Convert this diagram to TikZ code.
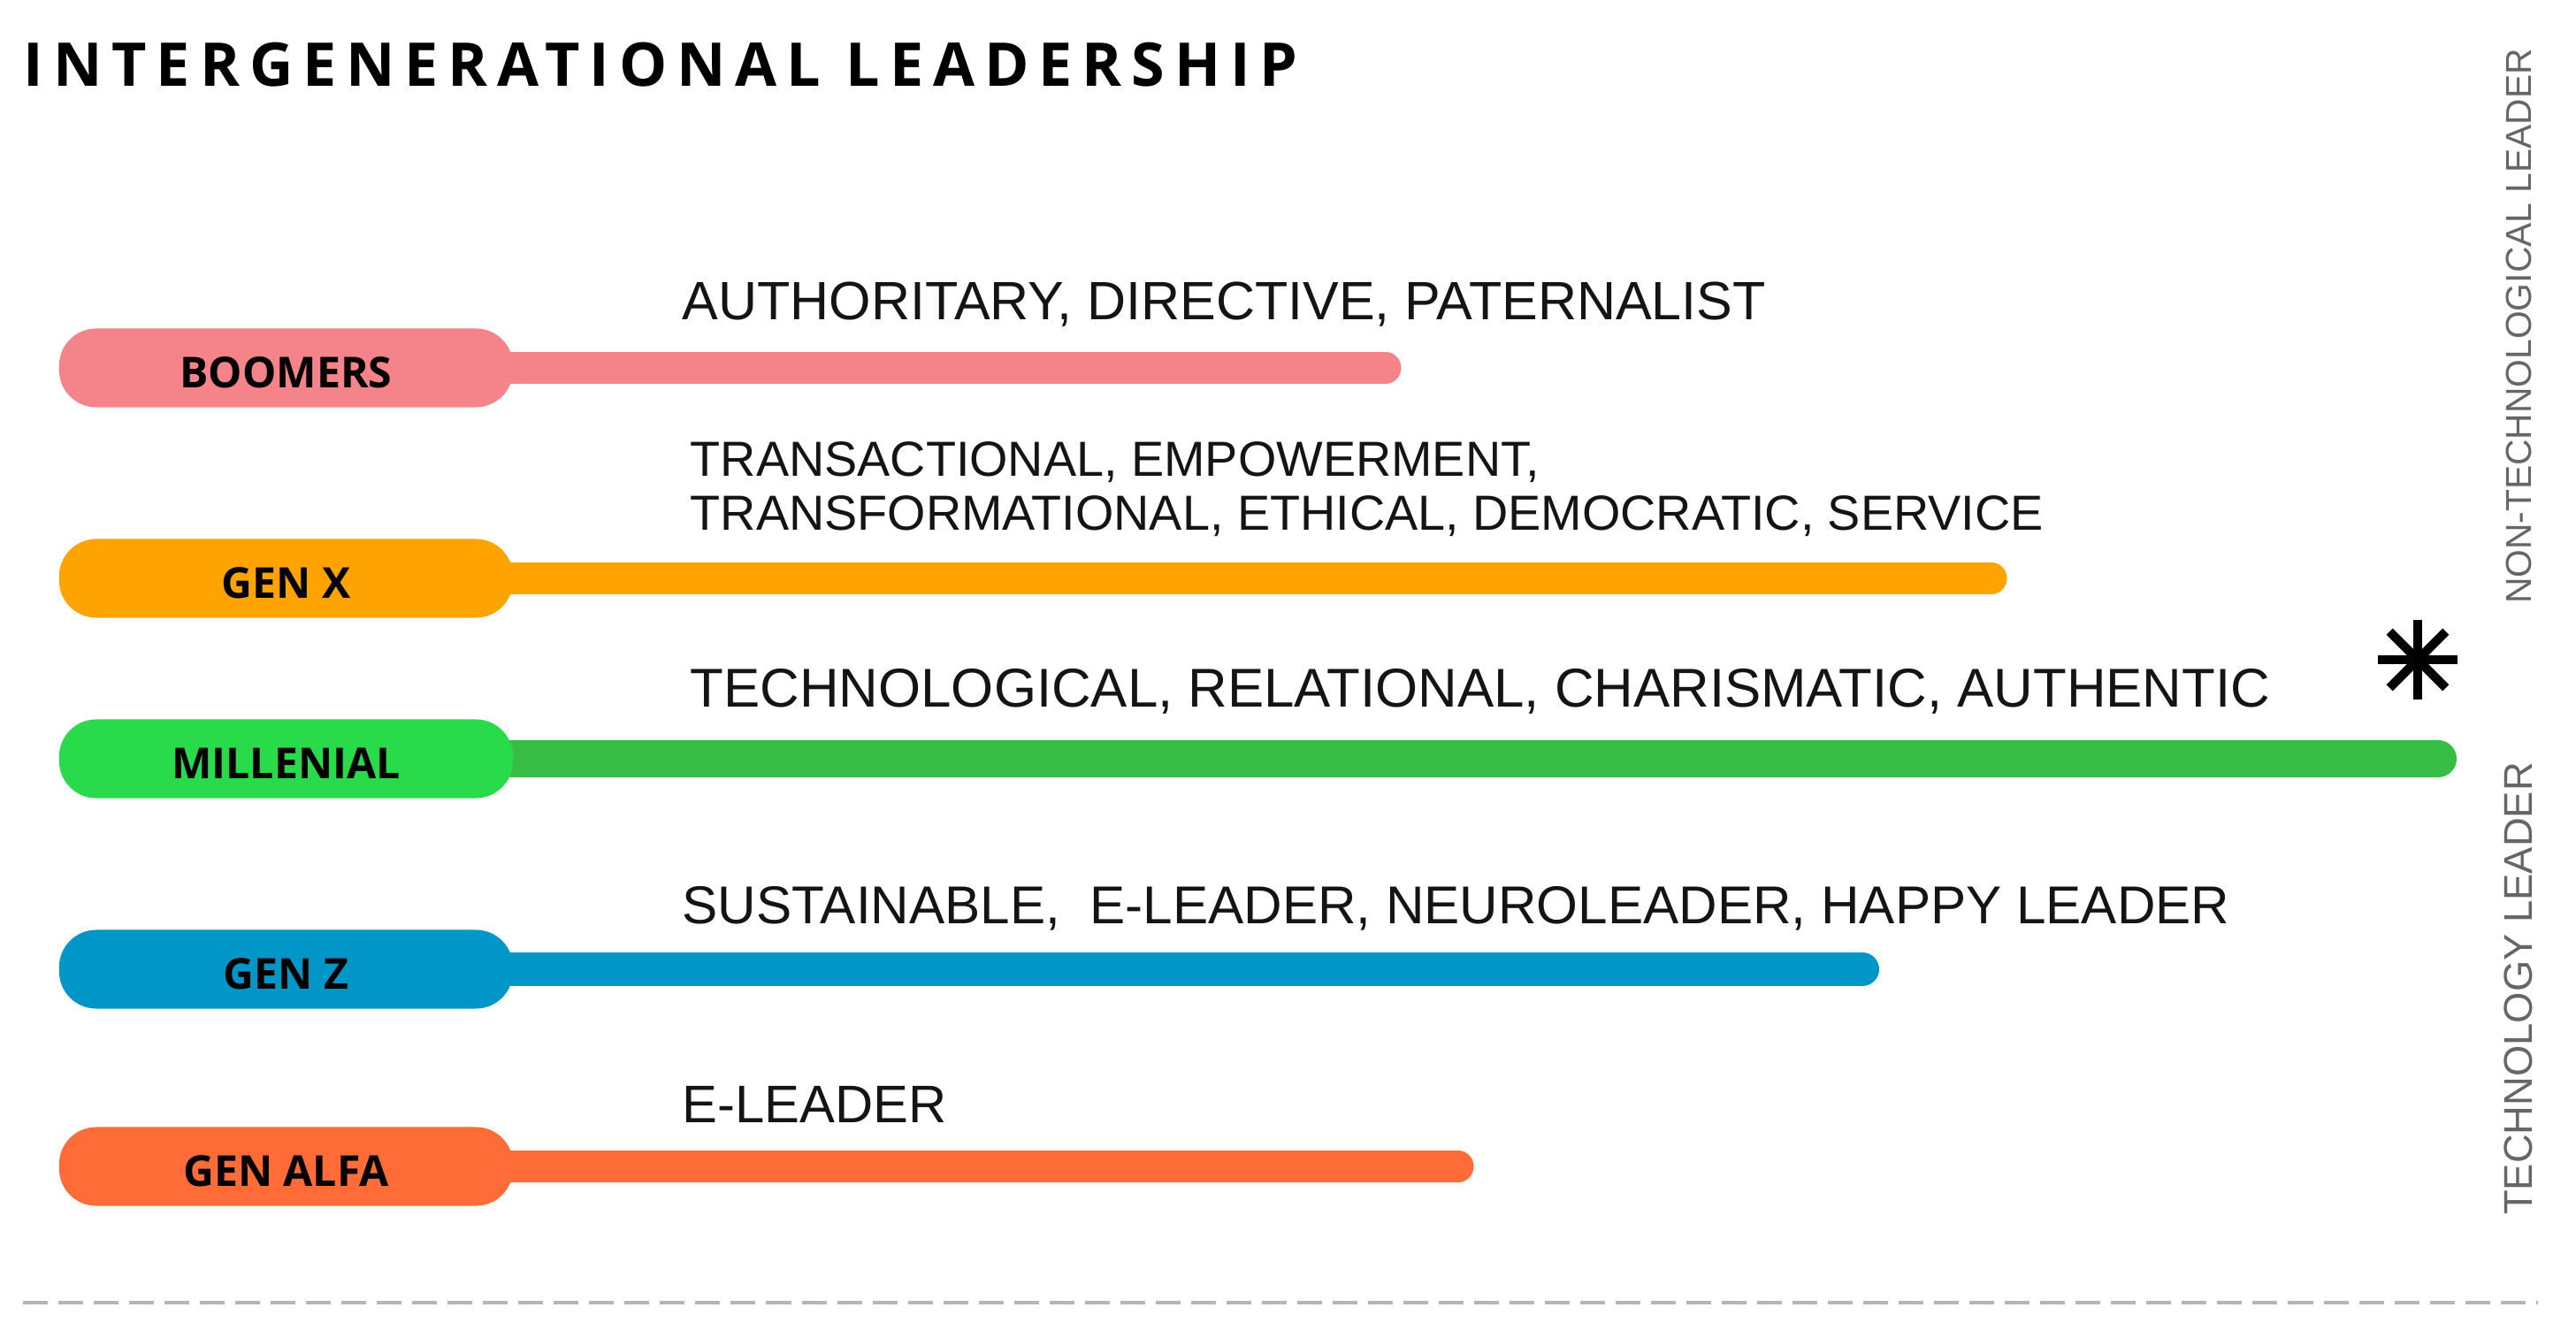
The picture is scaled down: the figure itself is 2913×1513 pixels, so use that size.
\documentclass[tikz,border=0pt]{standalone}
\usepackage{fontspec}
\setmainfont{Liberation Sans}
\newfontfamily\pillfont{Open Sans}
\newfontfamily\titlefont[LetterSpace=16]{Open Sans}
\pgfdeclarelayer{background}
\pgfdeclarelayer{canvas}
\pgfsetlayers{canvas,background,main}
\definecolor{boomc}{HTML}{F4838A}
\definecolor{genxc}{HTML}{FFA300}
\definecolor{millc}{HTML}{29DA4A}
\definecolor{millbar}{HTML}{37BC45}
\definecolor{genzc}{HTML}{0096C8}
\definecolor{alfac}{HTML}{FF6C37}
\definecolor{sidegray}{HTML}{666666}
\definecolor{dashgray}{HTML}{B5B5B5}
\tikzset{
  pill/.style={draw=none, minimum width=5.13cm, minimum height=0.89cm, rounded corners=0.42cm,
    inner sep=0pt, text height=0.45cm, text depth=0cm,
    font=\pillfont\bfseries\fontsize{13.7pt}{14pt}\selectfont, text=black},
  bar/.style={line cap=round},
  lbl/.style={anchor=base west, inner sep=0pt, text=black!92},
  side/.style={rotate=90, inner sep=0pt, text=sidegray},
}
\begin{document}
\begin{tikzpicture}[x=0.01cm, y=-0.01cm]
\useasboundingbox (0,0) rectangle (2913,1513);
\begin{pgfonlayer}{canvas}
\fill[white] (0,0) rectangle (2913,1513);
\end{pgfonlayer}

% title
\node[anchor=base west, inner sep=0pt, font=\titlefont\bfseries\fontsize{19.4pt}{20pt}\selectfont] (title) at (26,98) {INTERGENERATIONAL LEADERSHIP};

% pills
\node[pill, fill=boomc] (boomers) at (323.5,416) {BOOMERS};
\node[pill, fill=genxc] (genx) at (323.5,654) {GEN X};
\node[pill, fill=millc] (mill) at (323.5,858) {MILLENIAL};
\node[pill, fill=genzc] (genz) at (323.5,1096) {GEN Z};
\node[pill, fill=alfac] (alfa) at (323.5,1319) {GEN ALFA};

% bar end points
\coordinate (boomend) at (1567,416);
\coordinate (genxend) at (2252,654);
\coordinate (millend) at (2757,858);
\coordinate (genzend) at (2106,1096);
\coordinate (alfaend) at (1649,1319);

\begin{pgfonlayer}{background}
\draw[bar, draw=boomc, line width=0.35cm] ([xshift=-0.4cm]boomers.east) -- (boomend);
\draw[bar, draw=genxc, line width=0.35cm] ([xshift=-0.4cm]genx.east) -- (genxend);
\draw[bar, draw=millbar, line width=0.42cm] ([xshift=-0.4cm]mill.east) -- (millend);
\draw[bar, draw=genzc, line width=0.38cm] ([xshift=-0.4cm]genz.east) -- (genzend);
\draw[bar, draw=alfac, line width=0.35cm] ([xshift=-0.4cm]alfa.east) -- (alfaend);
\end{pgfonlayer}

% labels
\node[lbl, font=\fontsize{17.35pt}{18pt}\selectfont] (lboom) at (771,362) {AUTHORITARY, DIRECTIVE, PATERNALIST};
\node[lbl, font=\fontsize{15.85pt}{16pt}\selectfont] (lgenxa) at (780,539) {TRANSACTIONAL, EMPOWERMENT,};
\node[lbl, font=\fontsize{15.85pt}{16pt}\selectfont] (lgenxb) at (780,600) {TRANSFORMATIONAL, ETHICAL, DEMOCRATIC, SERVICE};
\node[lbl, font=\fontsize{17.57pt}{18pt}\selectfont] (lmill) at (780,799) {TECHNOLOGICAL, RELATIONAL, CHARISMATIC, AUTHENTIC};
\node[lbl, font=\fontsize{17.13pt}{18pt}\selectfont] (lgenz) at (771,1044) {SUSTAINABLE,\ \ E-LEADER, NEUROLEADER, HAPPY LEADER};
\node[lbl, font=\fontsize{17.0pt}{18pt}\selectfont] (lalfa) at (771,1269) {E-LEADER};

% asterisk
\coordinate (star) at (2734,746);
\foreach \a in {0,45,90,135}{
  \draw[line width=0.1cm, black] ([shift={(\a:0.45cm)}]star) -- ([shift={(\a+180:0.45cm)}]star);
}

% side texts
\node[side, font=\fontsize{11.6pt}{12pt}\selectfont] (nontech) at (2848,369) {NON-TECHNOLOGICAL LEADER};
\node[side, font=\fontsize{12.9pt}{13pt}\selectfont] (tech) at (2848,1118) {TECHNOLOGY LEADER};

% dashed baseline
\coordinate (dl) at (26,1473);
\coordinate (dr) at (2870,1473);
\draw[dashgray, line width=0.04cm, dash pattern=on 0.28cm off 0.12cm] (dl) -- (dr);
\end{tikzpicture}
\end{document}
